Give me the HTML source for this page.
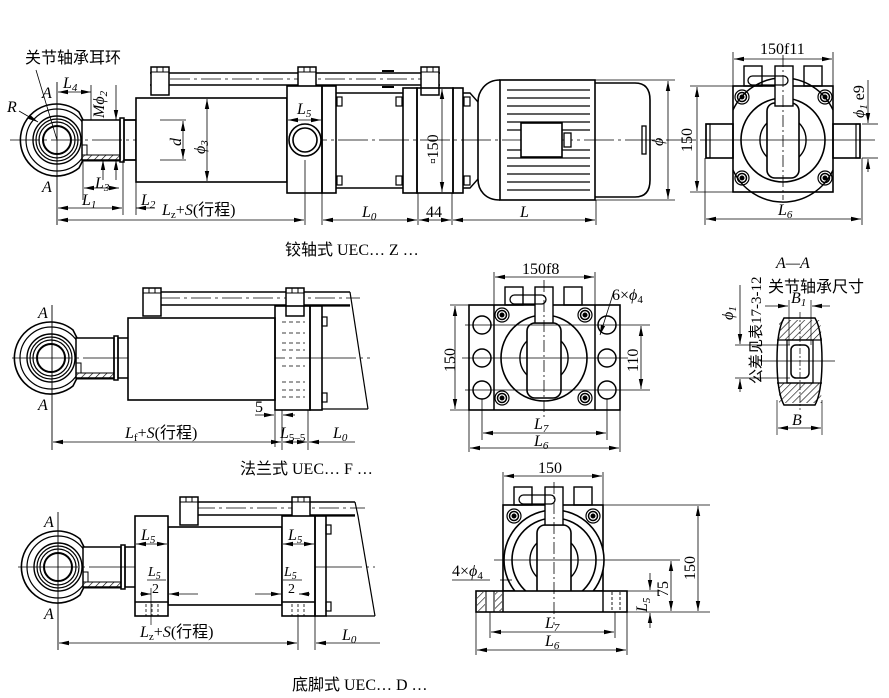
<!DOCTYPE html>
<html><head><meta charset="utf-8"><style>
html,body{margin:0;padding:0;background:#fff}
svg{display:block}
text{font-family:"Liberation Serif","Noto Serif CJK SC",serif;fill:#000}
.c{font-family:"Liberation Serif","Noto Sans CJK SC",serif}
.i{font-style:italic}
</style></head><body>
<svg width="889" height="698" viewBox="0 0 889 698" xmlns="http://www.w3.org/2000/svg">
<defs>
<marker id="a" markerWidth="10" markerHeight="6" refX="10" refY="3" orient="auto-start-reverse" markerUnits="userSpaceOnUse"><path d="M0,0.8 L10,3 L0,5.2z" fill="#000"/></marker>
<pattern id="h" width="5" height="5" patternUnits="userSpaceOnUse" patternTransform="rotate(45)"><line x1="0" y1="0" x2="0" y2="5" stroke="#000" stroke-width="1.2"/></pattern>
<g id="eye">
<path d="M0,-36 A36,36 0 1 0 22,28 L26,20 L26,-20 L22,-28 A36,36 0 0 0 0,-36z" fill="none" stroke="#000" stroke-width="1.6"/>
<circle r="31" fill="none" stroke="#000" stroke-width="1.2"/>
<circle r="24" fill="none" stroke="#000" stroke-width="1.4"/>
<circle r="21" fill="none" stroke="#000" stroke-width="1.2"/>
<circle r="18" fill="none" stroke="#000" stroke-width="1.2"/>
<circle r="14" fill="none" stroke="#000" stroke-width="2"/>
<rect x="25" y="-20" width="38" height="40" fill="#fff" stroke="#000" stroke-width="1.5"/>
<rect x="25" y="15" width="38" height="6" fill="url(#h)" stroke="#000" stroke-width="1"/>
<rect x="25" y="5" width="5" height="10" fill="none" stroke="#000"/>
<rect x="63" y="-22" width="4" height="44" fill="none" stroke="#000" stroke-width="1.5"/>
<rect x="67" y="-20" width="12" height="40" fill="none" stroke="#000" stroke-width="1.5"/>
</g>
<g id="bolt"><circle r="7" fill="none" stroke="#000" stroke-width="1.2"/><circle r="4.5" fill="none" stroke="#000" stroke-width="1.5"/><circle r="2" fill="#000"/></g>
<g id="lug"><rect x="0" y="0" width="18" height="28" fill="#fff" stroke="#000" stroke-width="1.5"/><line x1="0" y1="5" x2="18" y2="5" stroke="#000"/><line x1="6" y1="0" x2="6" y2="5" stroke="#000"/><line x1="12" y1="0" x2="12" y2="5" stroke="#000"/></g>
</defs>
<g stroke="#000" fill="none">

<!-- ===== TOP VIEW ===== -->
<use href="#eye" x="57" y="140"/>
<line x1="10" y1="140" x2="700" y2="140" stroke-width="0.8" stroke-dasharray="30 4 3 4"/>
<line x1="57" y1="82" x2="57" y2="225" stroke-width="0.9"/>
<line x1="150" y1="73" x2="440" y2="73" stroke-width="1.5"/>
<line x1="150" y1="85" x2="440" y2="85" stroke-width="1.5"/>
<line x1="170" y1="79" x2="440" y2="79" stroke-width="0.7" stroke-dasharray="20 4 3 4"/>
<path d="M382,71 h12 M382,87 h12" stroke-width="2"/>
<use href="#lug" x="151" y="67"/><use href="#lug" x="298" y="67"/><use href="#lug" x="421" y="67"/>
<rect x="136" y="98" width="151" height="84" stroke-width="1.6" fill="#fff"/>
<line x1="124" y1="120" x2="136" y2="120" stroke-width="1.5"/><line x1="124" y1="160" x2="136" y2="160" stroke-width="1.5"/>
<rect x="287" y="86" width="35" height="107" stroke-width="1.6" fill="#fff"/>
<circle cx="305" cy="140" r="16" stroke-width="1.6"/><circle cx="305" cy="140" r="12" stroke-width="1.6"/>
<rect x="322" y="86" width="14" height="107" stroke-width="1.6"/>
<line x1="336" y1="93" x2="403" y2="93" stroke-width="1.5"/><line x1="336" y1="188" x2="403" y2="188" stroke-width="1.5"/>
<rect x="337" y="97" width="5" height="9" stroke-width="1.2"/><rect x="337" y="176" width="5" height="9" stroke-width="1.2"/>
<rect x="396" y="97" width="6" height="9" stroke-width="1.2"/><rect x="396" y="176" width="6" height="9" stroke-width="1.2"/>
<rect x="403" y="88" width="14" height="105" stroke-width="1.6"/>
<rect x="417" y="88" width="36" height="105" stroke-width="1.6"/>
<rect x="453" y="88" width="10" height="105" stroke-width="1.6"/>
<rect x="464" y="97" width="6" height="9" stroke-width="1.2"/><rect x="464" y="176" width="6" height="9" stroke-width="1.2"/>
<path d="M463,93 L470,93 L478,102 M463,188 L470,188 L478,179" stroke-width="1.4"/>
<path d="M500,80 C485,80 478,92 478,102 L478,179 C478,190 485,200 500,200" stroke-width="1.6"/>
<rect x="500" y="80" width="95" height="120" stroke-width="1.6"/>
<g stroke-width="1.2">
<line x1="507" y1="90" x2="590" y2="90"/><line x1="507" y1="98" x2="590" y2="98"/><line x1="507" y1="106" x2="590" y2="106"/><line x1="507" y1="114" x2="590" y2="114"/><line x1="507" y1="122" x2="590" y2="122"/><line x1="507" y1="130" x2="590" y2="130"/>
<line x1="507" y1="150" x2="590" y2="150"/><line x1="507" y1="158" x2="590" y2="158"/><line x1="507" y1="166" x2="590" y2="166"/><line x1="507" y1="174" x2="590" y2="174"/><line x1="507" y1="182" x2="590" y2="182"/><line x1="507" y1="190" x2="590" y2="190"/>
</g>
<rect x="521" y="123" width="41" height="34" fill="#fff" stroke-width="1.6"/>
<rect x="564" y="133" width="7" height="14" fill="#fff" stroke-width="1.3"/>
<path d="M595,83 L635,83 Q650,83 650,100 L650,180 Q650,197 635,197 L595,197" stroke-width="1.6"/>
<rect x="642" y="126" width="4" height="28" stroke-width="1.3"/>
<line x1="595" y1="80" x2="675" y2="80" stroke-width="0.8"/><line x1="595" y1="200" x2="675" y2="200" stroke-width="0.8"/>
<line x1="668" y1="81" x2="668" y2="199" stroke-width="0.8" marker-start="url(#a)" marker-end="url(#a)"/>
<line x1="442" y1="89" x2="442" y2="192" stroke-width="0.8" marker-start="url(#a)" marker-end="url(#a)"/>
<line x1="305" y1="160" x2="305" y2="225" stroke-width="0.8"/>
<line x1="322" y1="193" x2="322" y2="225" stroke-width="0.8"/>
<line x1="418" y1="193" x2="418" y2="225" stroke-width="0.8"/>
<line x1="452" y1="193" x2="452" y2="225" stroke-width="0.8"/>
<line x1="596" y1="200" x2="596" y2="225" stroke-width="0.8"/>
<line x1="123" y1="160" x2="123" y2="215" stroke-width="0.8"/>
<line x1="136" y1="182" x2="136" y2="215" stroke-width="0.8"/>
<line x1="83" y1="160" x2="83" y2="200" stroke-width="0.8"/>
<line x1="58" y1="208" x2="122" y2="208" stroke-width="0.8" marker-start="url(#a)" marker-end="url(#a)"/>
<line x1="136" y1="208" x2="155" y2="208" stroke-width="0.8" marker-start="url(#a)"/>
<line x1="58" y1="220" x2="304" y2="220" stroke-width="0.8" marker-start="url(#a)" marker-end="url(#a)"/>
<line x1="323" y1="220" x2="417" y2="220" stroke-width="0.8" marker-start="url(#a)" marker-end="url(#a)"/>
<line x1="419" y1="220" x2="451" y2="220" stroke-width="0.8" marker-start="url(#a)" marker-end="url(#a)"/>
<line x1="453" y1="220" x2="595" y2="220" stroke-width="0.8" marker-start="url(#a)" marker-end="url(#a)"/>
<line x1="84" y1="188" x2="119" y2="188" stroke-width="0.8" marker-start="url(#a)" marker-end="url(#a)"/>
<line x1="58" y1="92" x2="91" y2="92" stroke-width="0.8" marker-start="url(#a)" marker-end="url(#a)"/>
<line x1="91" y1="85" x2="91" y2="120" stroke-width="0.8"/>
<line x1="103" y1="160" x2="103" y2="180" stroke-width="0.8" marker-start="url(#a)"/>
<line x1="116" y1="85" x2="116" y2="120" stroke-width="0.8" marker-end="url(#a)"/>
<line x1="116" y1="160" x2="116" y2="180" stroke-width="0.8" marker-start="url(#a)"/>
<line x1="183" y1="121" x2="183" y2="159" stroke-width="0.8" marker-start="url(#a)" marker-end="url(#a)"/>
<line x1="160" y1="120" x2="186" y2="120" stroke-width="0.8"/><line x1="160" y1="160" x2="186" y2="160" stroke-width="0.8"/>
<line x1="207" y1="99" x2="207" y2="181" stroke-width="0.8" marker-start="url(#a)" marker-end="url(#a)"/>
<line x1="288" y1="120" x2="321" y2="120" stroke-width="0.8" marker-start="url(#a)" marker-end="url(#a)"/>
<line x1="36" y1="70" x2="57" y2="140" stroke-width="0.8"/>
<line x1="19" y1="111" x2="38" y2="122" stroke-width="0.8" marker-end="url(#a)"/>

<!-- top right end view -->
<path d="M733,110 A55,55 0 0 1 833,110 M733,170 A55,55 0 0 0 833,170" stroke-width="1.5"/>
<rect x="733" y="86" width="100" height="106" stroke-width="1.6"/>
<circle cx="783" cy="140" r="42" stroke-width="1.6"/>
<rect x="767" y="103" width="32" height="75" rx="8" stroke-width="1.6" fill="#fff"/>
<path d="M767,123 A24,24 0 0 0 767,157 M799,123 A24,24 0 0 1 799,157" stroke-width="1.4"/>
<rect x="706" y="124" width="27" height="34" stroke-width="1.6"/><rect x="706" y="124" width="4" height="34" stroke-width="1.2"/>
<rect x="833" y="124" width="27" height="34" stroke-width="1.6"/><rect x="856" y="124" width="4" height="34" stroke-width="1.2"/>
<use href="#bolt" x="742" y="97"/><use href="#bolt" x="825" y="97"/><use href="#bolt" x="742" y="178"/><use href="#bolt" x="825" y="178"/>
<rect x="744" y="66" width="18" height="20" stroke-width="1.4"/><rect x="775" y="66" width="18" height="40" stroke-width="1.4" fill="#fff"/><rect x="804" y="66" width="18" height="20" stroke-width="1.4"/>
<rect x="748" y="76" width="40" height="9" rx="4.5" stroke-width="1.3"/>
<line x1="783" y1="55" x2="783" y2="200" stroke-width="0.8" stroke-dasharray="12 3 2 3"/>
<line x1="700" y1="140" x2="875" y2="140" stroke-width="0.8"/>
<line x1="733" y1="52" x2="733" y2="86" stroke-width="0.8"/><line x1="833" y1="52" x2="833" y2="86" stroke-width="0.8"/>
<line x1="734" y1="59" x2="832" y2="59" stroke-width="0.8" marker-start="url(#a)" marker-end="url(#a)"/>
<line x1="690" y1="86" x2="733" y2="86" stroke-width="0.8"/><line x1="690" y1="192" x2="733" y2="192" stroke-width="0.8"/>
<line x1="697" y1="87" x2="697" y2="191" stroke-width="0.8" marker-start="url(#a)" marker-end="url(#a)"/>
<line x1="705" y1="158" x2="705" y2="225" stroke-width="0.8"/><line x1="862" y1="158" x2="862" y2="225" stroke-width="0.8"/>
<line x1="706" y1="219" x2="861" y2="219" stroke-width="0.8" marker-start="url(#a)" marker-end="url(#a)"/>
<line x1="862" y1="124" x2="878" y2="124" stroke-width="0.8"/><line x1="862" y1="158" x2="878" y2="158" stroke-width="0.8"/>
<line x1="868" y1="80" x2="868" y2="123" stroke-width="0.8" marker-end="url(#a)"/>
<line x1="868" y1="159" x2="868" y2="172" stroke-width="0.8" marker-start="url(#a)"/>

<!-- ===== MIDDLE VIEW ===== -->
<use href="#eye" x="51" y="358"/>
<line x1="12" y1="358" x2="370" y2="358" stroke-width="0.8" stroke-dasharray="60 4 3 4"/>
<line x1="52" y1="305" x2="52" y2="450" stroke-width="0.9"/>
<line x1="145" y1="292" x2="350" y2="292" stroke-width="1.5"/><line x1="145" y1="305" x2="350" y2="305" stroke-width="1.5"/>
<line x1="160" y1="298" x2="360" y2="298" stroke-width="0.7" stroke-dasharray="20 4 3 4"/>
<use href="#lug" x="143" y="288"/><use href="#lug" x="286" y="288"/>
<rect x="128" y="318" width="147" height="82" stroke-width="1.6" fill="#fff"/>
<rect x="275" y="306" width="35" height="104" stroke-width="1.6"/>
<rect x="310" y="306" width="12" height="104" stroke-width="1.6"/>
<g stroke-width="0.8" stroke-dasharray="4 3"><line x1="282" y1="322" x2="305" y2="322"/><line x1="282" y1="333" x2="305" y2="333"/><line x1="282" y1="343" x2="305" y2="343"/><line x1="282" y1="350" x2="305" y2="350"/><line x1="282" y1="366" x2="305" y2="366"/><line x1="282" y1="382" x2="305" y2="382"/><line x1="282" y1="390" x2="305" y2="390"/><line x1="282" y1="397" x2="305" y2="397"/></g>
<rect x="322" y="317" width="5" height="9" stroke-width="1.2"/><rect x="322" y="393" width="5" height="9" stroke-width="1.2"/>
<line x1="322" y1="306" x2="350" y2="306" stroke-width="1.3"/><line x1="322" y1="409" x2="368" y2="409" stroke-width="1.3"/>
<path d="M350,292 L352,305 L368,409" stroke-width="1.2"/>
<line x1="275" y1="410" x2="275" y2="447" stroke-width="0.8"/><line x1="282" y1="410" x2="282" y2="450" stroke-width="0.8"/><line x1="308" y1="410" x2="308" y2="450" stroke-width="0.8"/>
<line x1="255" y1="415" x2="274" y2="415" stroke-width="0.8" marker-end="url(#a)"/><line x1="295" y1="415" x2="283" y2="415" stroke-width="0.8" marker-end="url(#a)"/>
<line x1="53" y1="442" x2="281" y2="442" stroke-width="0.8" marker-start="url(#a)" marker-end="url(#a)"/>
<line x1="283" y1="442" x2="307" y2="442" stroke-width="0.8" marker-start="url(#a)" marker-end="url(#a)"/>
<line x1="309" y1="442" x2="355" y2="442" stroke-width="0.8" marker-start="url(#a)"/>

<!-- middle end view -->
<rect x="469" y="305" width="151" height="105" stroke-width="1.6"/>
<line x1="494" y1="305" x2="494" y2="410" stroke-width="1.5"/><line x1="595" y1="305" x2="595" y2="410" stroke-width="1.5"/>
<circle cx="544" cy="358" r="43" stroke-width="1.6"/>
<rect x="527" y="323" width="34" height="75" rx="8" stroke-width="1.6" fill="#fff"/>
<path d="M527,341 A24,24 0 0 0 527,375 M561,341 A24,24 0 0 1 561,375" stroke-width="1.4"/>
<g stroke-width="1.5"><circle cx="482" cy="325" r="9"/><circle cx="482" cy="358" r="9"/><circle cx="482" cy="390" r="9"/><circle cx="607" cy="325" r="9"/><circle cx="607" cy="358" r="9"/><circle cx="607" cy="390" r="9"/></g>
<use href="#bolt" x="502" y="315"/><use href="#bolt" x="585" y="315"/><use href="#bolt" x="502" y="398"/><use href="#bolt" x="585" y="398"/>
<rect x="505" y="287" width="18" height="18" stroke-width="1.4"/><rect x="535" y="287" width="18" height="36" stroke-width="1.4" fill="#fff"/><rect x="564" y="287" width="18" height="18" stroke-width="1.4"/>
<rect x="510" y="295" width="36" height="9" rx="4.5" stroke-width="1.3"/>
<line x1="544" y1="280" x2="544" y2="420" stroke-width="0.8" stroke-dasharray="12 3 2 3"/>
<line x1="462" y1="358" x2="628" y2="358" stroke-width="0.8"/>
<line x1="465" y1="325" x2="650" y2="325" stroke-width="0.7"/><line x1="465" y1="390" x2="650" y2="390" stroke-width="0.7"/>
<line x1="494" y1="272" x2="494" y2="305" stroke-width="0.8"/><line x1="595" y1="272" x2="595" y2="305" stroke-width="0.8"/>
<line x1="495" y1="277" x2="594" y2="277" stroke-width="0.8" marker-start="url(#a)" marker-end="url(#a)"/>
<line x1="450" y1="305" x2="469" y2="305" stroke-width="0.8"/><line x1="450" y1="410" x2="469" y2="410" stroke-width="0.8"/>
<line x1="455" y1="306" x2="455" y2="409" stroke-width="0.8" marker-start="url(#a)" marker-end="url(#a)"/>
<line x1="641" y1="326" x2="641" y2="389" stroke-width="0.8" marker-start="url(#a)" marker-end="url(#a)"/>
<line x1="482" y1="399" x2="482" y2="440" stroke-width="0.8"/><line x1="607" y1="399" x2="607" y2="440" stroke-width="0.8"/>
<line x1="469" y1="410" x2="469" y2="452" stroke-width="0.8"/><line x1="620" y1="410" x2="620" y2="452" stroke-width="0.8"/>
<line x1="483" y1="433" x2="606" y2="433" stroke-width="0.8" marker-start="url(#a)" marker-end="url(#a)"/>
<line x1="470" y1="448" x2="619" y2="448" stroke-width="0.8" marker-start="url(#a)" marker-end="url(#a)"/>
<line x1="614" y1="291" x2="600" y2="335" stroke-width="0.8" marker-end="url(#a)"/>

<!-- A-A section -->
<path d="M784,318 L815,318 Q822,330 822,360 Q822,392 815,405 L784,405 Q777,392 777,360 Q777,330 784,318z" stroke-width="1.5"/>
<path d="M779,320 L820,320 L822,340 L779,340z" fill="url(#h)" stroke="none"/>
<path d="M779,383 L820,383 L822,403 L779,403z" fill="url(#h)" stroke="none"/>
<rect x="787" y="340" width="26" height="43" fill="#fff" stroke-width="1.3"/>
<rect x="791" y="345" width="18" height="33" rx="5" fill="#fff" stroke-width="1.5"/>
<line x1="777" y1="340" x2="822" y2="340" stroke-width="1.2"/><line x1="777" y1="383" x2="822" y2="383" stroke-width="1.2"/>
<line x1="800" y1="312" x2="800" y2="410" stroke-width="0.7" stroke-dasharray="6 2 2 2"/>
<line x1="760" y1="361" x2="835" y2="361" stroke-width="0.7"/>
<line x1="735" y1="345" x2="790" y2="345" stroke-width="0.7"/><line x1="735" y1="378" x2="790" y2="378" stroke-width="0.7"/>
<line x1="740" y1="285" x2="740" y2="344" stroke-width="0.8" marker-end="url(#a)"/>
<line x1="740" y1="379" x2="740" y2="392" stroke-width="0.8" marker-start="url(#a)"/>
<line x1="789" y1="300" x2="789" y2="345" stroke-width="0.7"/><line x1="811" y1="300" x2="811" y2="345" stroke-width="0.7"/>
<line x1="765" y1="306" x2="788" y2="306" stroke-width="0.8" marker-end="url(#a)"/><line x1="830" y1="306" x2="812" y2="306" stroke-width="0.8" marker-end="url(#a)"/>
<line x1="777" y1="400" x2="777" y2="435" stroke-width="0.7"/><line x1="822" y1="400" x2="822" y2="435" stroke-width="0.7"/>
<line x1="778" y1="428" x2="821" y2="428" stroke-width="0.8" marker-start="url(#a)" marker-end="url(#a)"/>

<!-- ===== BOTTOM VIEW ===== -->
<use href="#eye" x="58" y="567"/>
<line x1="18" y1="567" x2="375" y2="567" stroke-width="0.8" stroke-dasharray="60 4 3 4"/>
<line x1="58" y1="512" x2="58" y2="650" stroke-width="0.9"/>
<line x1="180" y1="502" x2="355" y2="502" stroke-width="1.5"/><line x1="180" y1="515" x2="355" y2="515" stroke-width="1.5"/>
<line x1="195" y1="508" x2="365" y2="508" stroke-width="0.7" stroke-dasharray="20 4 3 4"/>
<use href="#lug" x="180" y="497"/><use href="#lug" x="292" y="497"/>
<rect x="168" y="527" width="114" height="78" stroke-width="1.6" fill="#fff"/>
<rect x="135" y="516" width="33" height="100" stroke-width="1.6" fill="#fff"/>
<line x1="135" y1="602" x2="168" y2="602" stroke-width="1.4"/>
<rect x="282" y="516" width="33" height="100" stroke-width="1.6" fill="#fff"/>
<line x1="282" y1="602" x2="315" y2="602" stroke-width="1.4"/>
<rect x="315" y="516" width="11" height="100" stroke-width="1.6"/>
<g stroke-width="0.8" stroke-dasharray="3 2"><line x1="146" y1="604" x2="146" y2="616"/><line x1="152" y1="604" x2="152" y2="616"/><line x1="158" y1="604" x2="158" y2="616"/><line x1="292" y1="604" x2="292" y2="616"/><line x1="298" y1="604" x2="298" y2="616"/><line x1="304" y1="604" x2="304" y2="616"/></g>
<rect x="326" y="525" width="5" height="9" stroke-width="1.2"/><rect x="326" y="602" width="5" height="9" stroke-width="1.2"/>
<line x1="326" y1="516" x2="355" y2="516" stroke-width="1.3"/><line x1="326" y1="616" x2="375" y2="616" stroke-width="1.3"/>
<path d="M355,502 L358,516 L375,616" stroke-width="1.2"/>
<line x1="136" y1="544" x2="167" y2="544" stroke-width="0.8" marker-start="url(#a)" marker-end="url(#a)"/>
<line x1="283" y1="544" x2="314" y2="544" stroke-width="0.8" marker-start="url(#a)" marker-end="url(#a)"/>
<line x1="140" y1="594" x2="151" y2="594" stroke-width="0.8" marker-end="url(#a)"/><line x1="198" y1="594" x2="169" y2="594" stroke-width="0.8" marker-end="url(#a)"/>
<line x1="255" y1="594" x2="281" y2="594" stroke-width="0.8" marker-end="url(#a)"/><line x1="310" y1="594" x2="299" y2="594" stroke-width="0.8" marker-end="url(#a)"/>
<line x1="151" y1="588" x2="151" y2="625" stroke-width="0.7"/>
<line x1="298" y1="616" x2="298" y2="650" stroke-width="0.8"/><line x1="315" y1="616" x2="315" y2="650" stroke-width="0.8"/>
<line x1="59" y1="643" x2="297" y2="643" stroke-width="0.8" marker-start="url(#a)" marker-end="url(#a)"/>
<line x1="316" y1="643" x2="380" y2="643" stroke-width="0.8" marker-start="url(#a)"/>

<!-- bottom end view -->
<rect x="503" y="505" width="100" height="86" stroke-width="1.6"/>
<circle cx="554" cy="560" r="50" stroke-width="1.6" fill="#fff"/>
<circle cx="554" cy="560" r="42" stroke-width="1.6"/>
<rect x="537" y="525" width="34" height="75" rx="8" stroke-width="1.6" fill="#fff"/>
<path d="M537,543 A24,24 0 0 0 537,577 M571,543 A24,24 0 0 1 571,577" stroke-width="1.4"/>
<rect x="476" y="591" width="151" height="21" stroke-width="1.6" fill="#fff"/>
<line x1="503" y1="591" x2="503" y2="612" stroke-width="1.4"/><line x1="603" y1="591" x2="603" y2="612" stroke-width="1.4"/>
<rect x="477" y="592" width="8" height="19" fill="url(#h)" stroke="none"/><rect x="495" y="592" width="7" height="19" fill="url(#h)" stroke="none"/>
<line x1="486" y1="591" x2="486" y2="612" stroke-width="1"/><line x1="494" y1="591" x2="494" y2="612" stroke-width="1"/>
<g stroke-width="0.9" stroke-dasharray="3 2"><line x1="612" y1="592" x2="612" y2="611"/><line x1="620" y1="592" x2="620" y2="611"/></g>
<use href="#bolt" x="514" y="516"/><use href="#bolt" x="593" y="516"/>
<rect x="514" y="487" width="18" height="18" stroke-width="1.4"/><rect x="545" y="487" width="18" height="38" stroke-width="1.4" fill="#fff"/><rect x="574" y="487" width="18" height="18" stroke-width="1.4"/>
<rect x="519" y="495" width="36" height="9" rx="4.5" stroke-width="1.3"/>
<line x1="554" y1="482" x2="554" y2="625" stroke-width="0.8" stroke-dasharray="12 3 2 3"/>
<line x1="494" y1="560" x2="680" y2="560" stroke-width="0.8"/>
<line x1="603" y1="505" x2="710" y2="505" stroke-width="0.8"/><line x1="627" y1="612" x2="710" y2="612" stroke-width="0.8"/>
<line x1="627" y1="591" x2="660" y2="591" stroke-width="0.8"/>
<line x1="698" y1="506" x2="698" y2="611" stroke-width="0.8" marker-start="url(#a)" marker-end="url(#a)"/>
<line x1="671" y1="561" x2="671" y2="611" stroke-width="0.8" marker-start="url(#a)" marker-end="url(#a)"/>
<line x1="650" y1="573" x2="650" y2="590" stroke-width="0.8" marker-end="url(#a)"/><line x1="650" y1="628" x2="650" y2="613" stroke-width="0.8" marker-end="url(#a)"/>
<line x1="503" y1="472" x2="503" y2="505" stroke-width="0.8"/><line x1="603" y1="472" x2="603" y2="505" stroke-width="0.8"/>
<line x1="504" y1="476" x2="602" y2="476" stroke-width="0.8" marker-start="url(#a)" marker-end="url(#a)"/>
<line x1="452" y1="580" x2="490" y2="580" stroke-width="0.8"/><line x1="500" y1="580" x2="512" y2="580" stroke-width="0.8"/>
<line x1="490" y1="612" x2="490" y2="638" stroke-width="0.8"/><line x1="615" y1="612" x2="615" y2="638" stroke-width="0.8"/>
<line x1="476" y1="612" x2="476" y2="655" stroke-width="0.8"/><line x1="627" y1="612" x2="627" y2="655" stroke-width="0.8"/>
<line x1="491" y1="632" x2="614" y2="632" stroke-width="0.8" marker-start="url(#a)" marker-end="url(#a)"/>
<line x1="477" y1="650" x2="626" y2="650" stroke-width="0.8" marker-start="url(#a)" marker-end="url(#a)"/>
</g>

<!-- ===== TEXT ===== -->
<g font-size="16">
<text x="25" y="63" class="c">关节轴承耳环</text>
<text x="42" y="98" class="i">A</text><text x="42" y="192" class="i">A</text>
<text x="7" y="112" class="i">R</text>
<text x="63" y="88" class="i">L<tspan font-size="11" dy="3">4</tspan></text>
<text x="0" y="0" class="i" transform="translate(104,118) rotate(-90)">M<tspan>ϕ</tspan><tspan font-size="11" dy="3">2</tspan></text>
<text x="95" y="188" class="i">L<tspan font-size="11" dy="3">3</tspan></text>
<text x="82" y="205" class="i">L<tspan font-size="11" dy="3">1</tspan></text>
<text x="141" y="205" class="i">L<tspan font-size="11" dy="3">2</tspan></text>
<text x="162" y="215" class="i">L<tspan font-size="11" dy="3" font-style="normal">z</tspan><tspan dy="-3" font-style="normal">+</tspan>S<tspan class="c" font-style="normal">(行程)</tspan></text>
<text x="0" y="0" class="i" transform="translate(181,146) rotate(-90)">d</text>
<text x="0" y="0" class="i" transform="translate(205,154) rotate(-90)">ϕ<tspan font-size="11" dy="3">3</tspan></text>
<text x="297" y="114" class="i">L<tspan font-size="11" dy="3">5</tspan></text>
<text x="0" y="0" transform="translate(438,164) rotate(-90)">▫150</text>
<text x="362" y="217" class="i">L<tspan font-size="11" dy="3">0</tspan></text>
<text x="426" y="217">44</text>
<text x="520" y="217" class="i">L</text>
<text x="0" y="0" class="i" transform="translate(663,146) rotate(-90)">ϕ</text>
<text x="760" y="54">150f11</text>
<text x="0" y="0" transform="translate(692,152) rotate(-90)">150</text>
<text x="0" y="0" class="i" transform="translate(864,118) rotate(-90)">ϕ<tspan font-size="11" dy="3">1</tspan><tspan dy="-3" font-style="normal"> e9</tspan></text>
<text x="778" y="215" class="i">L<tspan font-size="11" dy="3">6</tspan></text>
<text x="285" y="255" class="c">铰轴式 UEC… Z …</text>

<text x="38" y="318" class="i">A</text><text x="38" y="410" class="i">A</text>
<text x="255" y="412">5</text>
<text x="125" y="438" class="i">L<tspan font-size="11" dy="3" font-style="normal">f</tspan><tspan dy="-3" font-style="normal">+</tspan>S<tspan class="c" font-style="normal">(行程)</tspan></text>
<text x="280" y="438" class="i">L<tspan font-size="11" dy="3" font-style="normal">5–5</tspan></text>
<text x="333" y="438" class="i">L<tspan font-size="11" dy="3">0</tspan></text>
<text x="240" y="474" class="c">法兰式 UEC… F …</text>
<text x="522" y="274">150f8</text>
<text x="612" y="300">6×<tspan class="i">ϕ</tspan><tspan font-size="11" dy="3">4</tspan></text>
<text x="0" y="0" transform="translate(455,372) rotate(-90)">150</text>
<text x="0" y="0" transform="translate(638,372) rotate(-90)">110</text>
<text x="534" y="429" class="i">L<tspan font-size="11" dy="3">7</tspan></text>
<text x="534" y="446" class="i">L<tspan font-size="11" dy="3">6</tspan></text>
<text x="776" y="268" class="i">A—A</text>
<text x="768" y="292" class="c">关节轴承尺寸</text>
<text x="0" y="0" class="c" font-size="15" transform="translate(761,384) rotate(-90)">公差见表17-3-12</text>
<text x="0" y="0" class="i" transform="translate(733,320) rotate(-90)">ϕ<tspan font-size="11" dy="3">1</tspan></text>
<text x="791" y="303" class="i">B<tspan font-size="11" dy="3">1</tspan></text>
<text x="792" y="425" class="i">B</text>

<text x="44" y="527" class="i">A</text><text x="44" y="619" class="i">A</text>
<text x="141" y="540" class="i">L<tspan font-size="11" dy="3">5</tspan></text>
<text x="288" y="540" class="i">L<tspan font-size="11" dy="3">5</tspan></text>
<text x="148" y="576" class="i" font-size="14">L<tspan font-size="10" dy="3">5</tspan></text>
<line x1="147" y1="580" x2="166" y2="580" stroke="#000" stroke-width="0.8"/>
<text x="152" y="593" font-size="14">2</text>
<text x="284" y="576" class="i" font-size="14">L<tspan font-size="10" dy="3">5</tspan></text>
<line x1="283" y1="580" x2="302" y2="580" stroke="#000" stroke-width="0.8"/>
<text x="288" y="593" font-size="14">2</text>
<text x="140" y="637" class="i">L<tspan font-size="11" dy="3" font-style="normal">z</tspan><tspan dy="-3" font-style="normal">+</tspan>S<tspan class="c" font-style="normal">(行程)</tspan></text>
<text x="342" y="640" class="i">L<tspan font-size="11" dy="3">0</tspan></text>
<text x="292" y="690" class="c">底脚式 UEC… D …</text>
<text x="538" y="473">150</text>
<text x="452" y="576">4×<tspan class="i">ϕ</tspan><tspan font-size="11" dy="3">4</tspan></text>
<text x="0" y="0" transform="translate(695,580) rotate(-90)">150</text>
<text x="0" y="0" transform="translate(668,597) rotate(-90)">75</text>
<text x="0" y="0" class="i" transform="translate(647,612) rotate(-90)">L<tspan font-size="11" dy="3">5</tspan></text>
<text x="545" y="628" class="i">L<tspan font-size="11" dy="3">7</tspan></text>
<text x="545" y="646" class="i">L<tspan font-size="11" dy="3">6</tspan></text>
</g>
</svg>
</body></html>
